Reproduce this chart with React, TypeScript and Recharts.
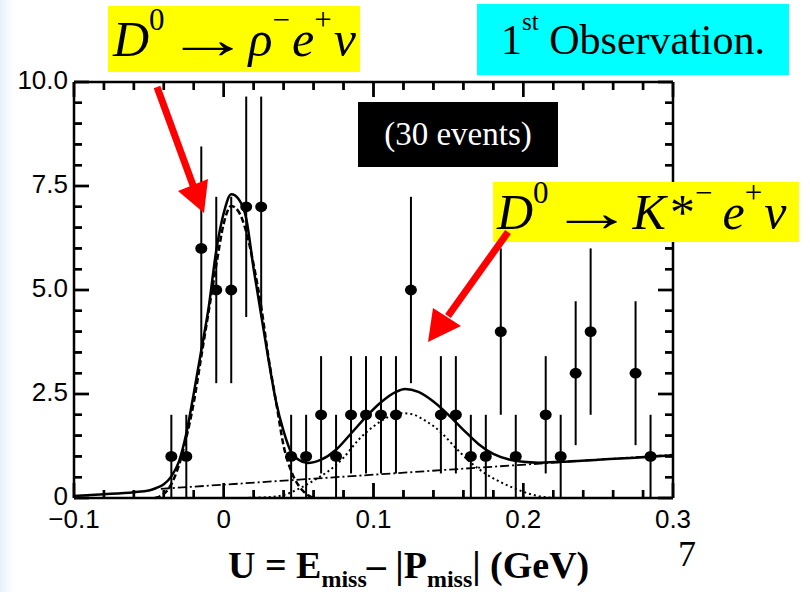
import React from 'react'
import { ComposedChart, Line, Scatter, ErrorBar, XAxis, YAxis, ReferenceLine } from 'recharts'

// events per 10 MeV bin of U (bin centres in GeV), empty bins left out
const binCenters = [
  -0.035, -0.025, -0.015, -0.005, 0.005, 0.015, 0.025, 0.045, 0.055, 0.065, 0.075, 0.085, 0.095, 0.105,
  0.115, 0.125, 0.145, 0.155, 0.165, 0.175, 0.185, 0.195, 0.215, 0.225, 0.235, 0.245, 0.275, 0.285,
]
const eventCounts = [1, 1, 6, 5, 5, 7, 7, 1, 1, 2, 1, 2, 2, 2, 2, 5, 2, 2, 1, 1, 4, 1, 2, 1, 3, 4, 3, 1]
const countErrors = [
  1, 1, 2.45, 2.24, 2.24, 2.65, 2.65, 1, 1, 1.41, 1, 1.41, 1.41, 1.41, 1.41, 2.24, 1.41, 1.41, 1, 1, 2, 1,
  1.41, 1, 1.73, 2, 1.73, 1,
]

// total fit (solid)
const totalFitX = [
  -0.1, -0.08, -0.06, -0.05, -0.045, -0.04, -0.035, -0.03, -0.025, -0.02, -0.015, -0.01, -0.005, 0, 0.005,
  0.01, 0.015, 0.02, 0.025, 0.03, 0.035, 0.04, 0.045, 0.05, 0.056, 0.065, 0.075, 0.085, 0.095, 0.105, 0.115,
  0.121, 0.13, 0.14, 0.15, 0.16, 0.17, 0.18, 0.19, 0.2, 0.21, 0.225, 0.25, 0.275, 0.3,
]
const totalFitY = [
  0.05, 0.09, 0.14, 0.18, 0.24, 0.33, 0.52, 0.87, 1.55, 2.52, 3.55, 4.6, 5.95, 6.85, 7.3, 7.18, 6.72, 5.5,
  4.4, 3.3, 2.3, 1.6, 1.1, 0.92, 0.84, 0.92, 1.16, 1.55, 1.95, 2.3, 2.55, 2.62, 2.55, 2.32, 2.0, 1.64, 1.3,
  1.06, 0.93, 0.87, 0.85, 0.87, 0.92, 0.97, 1.03,
]

// D0 -> rho e nu component (dashed)
const rhoFitX = [
  -0.046, -0.04, -0.036, -0.03, -0.025, -0.02, -0.015, -0.01, -0.005, 0, 0.005, 0.01, 0.015, 0.02, 0.025,
  0.03, 0.035, 0.04, 0.045, 0.05, 0.055, 0.06,
]
const rhoFitY = [
  0, 0.1, 0.27, 0.78, 1.45, 2.3, 3.4, 4.5, 5.6, 6.6, 7.02, 6.88, 6.4, 5.6, 4.6, 3.35, 2.3, 1.25, 0.65, 0.3,
  0.1, 0,
]

// D0 -> K* e nu component (dotted)
const kstarFitX = [
  0.01, 0.03, 0.04, 0.05, 0.06, 0.07, 0.08, 0.09, 0.1, 0.11, 0.118, 0.125, 0.135, 0.145, 0.155, 0.165,
  0.175, 0.185, 0.195, 0.205, 0.215, 0.225, 0.24,
]
const kstarFitY = [
  0, 0.02, 0.07, 0.22, 0.42, 0.65, 0.97, 1.4, 1.72, 1.95, 2.04, 2.02, 1.85, 1.58, 1.2, 0.85, 0.58, 0.38,
  0.22, 0.09, 0.02, 0, 0,
]

// background (dash-dot)
const bkgFitX = [-0.042, 0.3]
const bkgFitY = [0.22, 1.04]

const xTickValues = [
  -0.1, -0.08, -0.06, -0.04, -0.02, 0, 0.02, 0.04, 0.06, 0.08, 0.1, 0.12, 0.14, 0.16, 0.18, 0.2, 0.22, 0.24,
  0.26, 0.28, 0.3,
]
const xMajorLabels = ['−0.1', '0', '0.1', '0.2', '0.3']
const yTickValues = [
  0, 0.5, 1, 1.5, 2, 2.5, 3, 3.5, 4, 4.5, 5, 5.5, 6, 6.5, 7, 7.5, 8, 8.5, 9, 9.5, 10,
]
const yMajorLabels = ['0', '2.5', '5.0', '7.5', '10.0']

const points = binCenters.map((x, i) => ({ x, y: eventCounts[i], err: countErrors[i] }))
const toXY = (xs: number[], ys: number[]) => xs.map((x, i) => ({ x, y: ys[i] }))
const totalData = toXY(totalFitX, totalFitY)
const rhoData = toXY(rhoFitX, rhoFitY)
const kstarData = toXY(kstarFitX, kstarFitY)
const bkgData = toXY(bkgFitX, bkgFitY)

// tick marks on the frame, placed through the chart scales (every 5th one is a major tick)
const bottomTicks = xTickValues.map((x, i) => ({ x, y: 0, major: i % 5 === 0 }))
const topTicks = xTickValues.map((x, i) => ({ x, y: 10, major: i % 5 === 0 }))
const leftTicks = yTickValues.map((y, i) => ({ x: -0.1, y, major: i % 5 === 0 }))
const rightTicks = yTickValues.map((y, i) => ({ x: 0.3, y, major: i % 5 === 0 }))

// same lengths in data units, for the reference-line version of the ticks
const xTickLen = (i: number) => (i % 5 === 0 ? 0.36 : 0.19)
const yTickLen = (i: number) => (i % 5 === 0 ? 0.01 : 0.0053)

const sans = '"Liberation Sans", Arial, sans-serif'
const serif = '"Liberation Serif", "Times New Roman", serif'
const axisStyle = { stroke: '#000', strokeWidth: 2.5 }

// filled rectangles so the marks draw like the data dots do
const tickMark = (dx: number, dy: number) => (p: any) => {
  const major = p.payload ? p.payload.major : p.index % 5 === 0
  const len = major ? 15 : 8
  const w = 2.4
  const cx = p.cx
  const cy = p.cy
  if (dx === 0) {
    return <rect x={cx - w / 2} y={dy < 0 ? cy - len : cy} width={w} height={len} fill="#000" />
  }
  return <rect x={dx > 0 ? cx : cx - len} y={cy - w / 2} width={len} height={w} fill="#000" />
}

const tickIndex = (vals: number[], v: number) => vals.findIndex((t) => Math.abs(t - v) < 1e-9)

function BottomLabel(props: any) {
  const { x, y, payload } = props
  const i = tickIndex(xTickValues, payload.value)
  if (i % 5 !== 0) return <g />
  return (
    <text x={x} y={y + 30} textAnchor="middle" fontSize={26} fontFamily={sans} fill="#000">
      {xMajorLabels[i / 5]}
    </text>
  )
}

function LeftLabel(props: any) {
  const { x, y, payload } = props
  const i = tickIndex(yTickValues, payload.value)
  if (i % 5 !== 0) return <g />
  return (
    <text x={x - 6} y={y + 7} textAnchor="end" fontSize={26} fontFamily={sans} fill="#000">
      {yMajorLabels[i / 5]}
    </text>
  )
}

const dot = (p: any) => <ellipse cx={p.cx} cy={p.cy} rx={6} ry={5.4} fill="#000" />

const boxText: React.CSSProperties = {
  position: 'absolute',
  fontFamily: serif,
  lineHeight: 1,
  display: 'flex',
  alignItems: 'center',
  whiteSpace: 'nowrap',
  boxSizing: 'border-box',
}
const sup: React.CSSProperties = { fontSize: '0.62em', position: 'relative', top: '-0.62em', fontStyle: 'normal' }
const arrow: React.CSSProperties = { display: 'inline-block', transform: 'scale(1.7, 1.1)', margin: '0 16px 0 18px' }

export default function App() {
  return (
    <div
      style={{
        position: 'absolute',
        left: 0,
        top: 0,
        width: 810,
        height: 592,
        overflow: 'hidden',
        background: 'linear-gradient(to right, #e6f1fb 0px, #ffffff 14px)',
      }}
    >
      <div style={{ position: 'absolute', left: 0, top: 0 }}>
        <ComposedChart width={810} height={592} margin={{ top: 52, right: 77, bottom: 54, left: 14 }}>
          <XAxis
            xAxisId={0}
            dataKey="x"
            type="number"
            domain={[-0.1, 0.3]}
            ticks={xTickValues}
            interval={0}
            height={40}
            tickSize={0}
            tickMargin={0}
            tickLine={false}
            tick={(p: any) => <BottomLabel {...p} />}
            axisLine={axisStyle}
          />
          <XAxis
            xAxisId="top"
            orientation="top"
            dataKey="x"
            type="number"
            domain={[-0.1, 0.3]}
            height={30}
            tickLine={false}
            tick={false}
            axisLine={axisStyle}
          />
          <YAxis
            yAxisId={0}
            type="number"
            domain={[0, 10]}
            ticks={yTickValues}
            interval={0}
            width={60}
            tickSize={0}
            tickMargin={0}
            tickLine={false}
            tick={(p: any) => <LeftLabel {...p} />}
            axisLine={axisStyle}
          />
          <YAxis
            yAxisId="right"
            orientation="right"
            type="number"
            domain={[0, 10]}
            width={60}
            tickLine={false}
            tick={false}
            axisLine={axisStyle}
          />

          {xTickValues.map((v, i) => (
            <ReferenceLine
              key={'xb' + i}
              segment={[{ x: v, y: 0 }, { x: v, y: xTickLen(i) }]}
              stroke="#000"
              strokeWidth={2.4}
            />
          ))}
          {xTickValues.map((v, i) => (
            <ReferenceLine
              key={'xt' + i}
              segment={[{ x: v, y: 10 }, { x: v, y: 10 - xTickLen(i) }]}
              stroke="#000"
              strokeWidth={2.4}
            />
          ))}
          {yTickValues.map((v, i) => (
            <ReferenceLine
              key={'yl' + i}
              segment={[{ x: -0.1, y: v }, { x: -0.1 + yTickLen(i), y: v }]}
              stroke="#000"
              strokeWidth={2.4}
            />
          ))}
          {yTickValues.map((v, i) => (
            <ReferenceLine
              key={'yr' + i}
              segment={[{ x: 0.3, y: v }, { x: 0.3 - yTickLen(i), y: v }]}
              stroke="#000"
              strokeWidth={2.4}
            />
          ))}

          <Scatter data={bottomTicks} dataKey="y" fill="#000" shape={tickMark(0, -1)} isAnimationActive={false} />
          <Scatter data={topTicks} dataKey="y" fill="#000" shape={tickMark(0, 1)} isAnimationActive={false} />
          <Scatter data={leftTicks} dataKey="y" fill="#000" shape={tickMark(1, 0)} isAnimationActive={false} />
          <Scatter data={rightTicks} dataKey="y" fill="#000" shape={tickMark(-1, 0)} isAnimationActive={false} />

          <Line
            data={bkgData}
            dataKey="y"
            type="linear"
            stroke="#000"
            strokeWidth={1.8}
            strokeDasharray="9 3 2 3"
            dot={false}
            isAnimationActive={false}
          />
          <Line
            data={kstarData}
            dataKey="y"
            type="monotone"
            stroke="#000"
            strokeWidth={2}
            strokeDasharray="2 3"
            dot={false}
            isAnimationActive={false}
          />
          <Line
            data={rhoData}
            dataKey="y"
            type="monotone"
            stroke="#000"
            strokeWidth={2.5}
            strokeDasharray="6 3"
            dot={false}
            isAnimationActive={false}
          />
          <Line
            data={totalData}
            dataKey="y"
            type="monotone"
            stroke="#000"
            strokeWidth={2.5}
            dot={false}
            isAnimationActive={false}
          />
          <Scatter data={points} dataKey="y" fill="#000" shape={dot} isAnimationActive={false}>
            <ErrorBar dataKey="err" direction="y" width={0} stroke="#000" strokeWidth={2} />
          </Scatter>
        </ComposedChart>
      </div>

      {/* annotation boxes */}
      <div style={{ ...boxText, left: 108, top: 6, width: 252, height: 66, background: '#ffff00', fontSize: 50, paddingLeft: 5 }}>
        <span style={{ fontStyle: 'italic' }}>D</span>
        <span style={sup}>0</span>
        <span style={arrow}>→</span>
        <span style={{ fontStyle: 'italic' }}>ρ</span>
        <span style={sup}>−</span>
        <span style={{ fontStyle: 'italic', marginLeft: 2 }}>e</span>
        <span style={sup}>+</span>
        <span style={{ fontStyle: 'italic', marginLeft: 2 }}>ν</span>
      </div>
      <div style={{ ...boxText, left: 477, top: 4, width: 312, height: 71, background: '#00ffff', fontSize: 42, justifyContent: 'center' }}>
        <span>1</span>
        <span style={{ fontSize: '0.6em', position: 'relative', top: '-0.7em' }}>st</span>
        <span>&nbsp;Observation.</span>
      </div>
      <div style={{ ...boxText, left: 358, top: 102, width: 200, height: 65, background: '#000', color: '#fff', fontSize: 33, justifyContent: 'center' }}>
        (30 events)
      </div>
      <div style={{ ...boxText, left: 493, top: 182, width: 306, height: 60, background: '#ffff00', fontSize: 50, paddingLeft: 4 }}>
        <span style={{ fontStyle: 'italic' }}>D</span>
        <span style={sup}>0</span>
        <span style={arrow}>→</span>
        <span style={{ fontStyle: 'italic' }}>K</span>
        <span style={{ marginLeft: 4 }}>*</span>
        <span style={sup}>−</span>
        <span style={{ fontStyle: 'italic', marginLeft: 10 }}>e</span>
        <span style={sup}>+</span>
        <span style={{ fontStyle: 'italic', marginLeft: 2 }}>ν</span>
      </div>

      <svg width={810} height={592} style={{ position: 'absolute', left: 0, top: 0, pointerEvents: 'none' }}>
        <line x1={157} y1={87} x2={194} y2={188} stroke="#ff0000" strokeWidth={7} />
        <polygon points="178,191 208,179 204,213" fill="#ff0000" />
        <line x1={508} y1={232} x2={448} y2={316} stroke="#ff0000" strokeWidth={7} />
        <polygon points="433,308 461,326 428,342" fill="#ff0000" />
      </svg>

      {/* axis title */}
      <div style={{ position: 'absolute', left: 228, top: 546, fontFamily: serif, fontWeight: 'bold', fontSize: 38, lineHeight: 1, whiteSpace: 'nowrap' }}>
        U = E<sub style={{ fontSize: 24 }}>miss</sub>– |P<sub style={{ fontSize: 24 }}>miss</sub>| (GeV)
      </div>
      <div style={{ position: 'absolute', left: 678, top: 536, fontFamily: serif, fontSize: 36, lineHeight: 1 }}>7</div>
    </div>
  )
}
